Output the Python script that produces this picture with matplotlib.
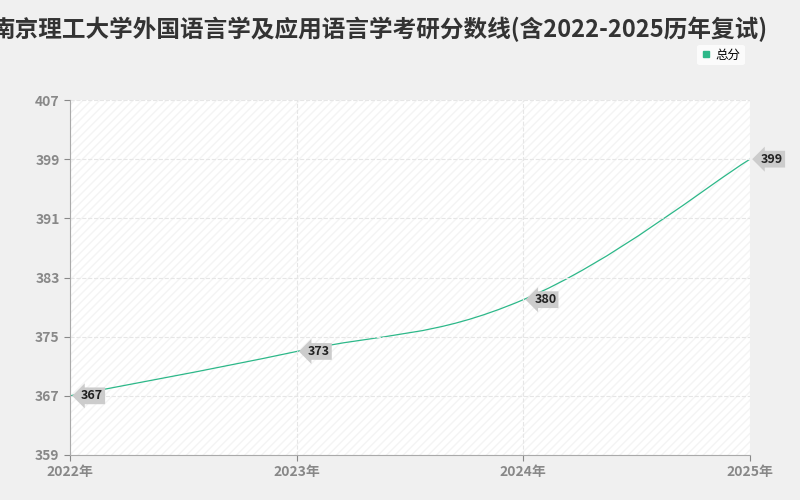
import matplotlib.pyplot as plt
from matplotlib.path import Path
from matplotlib.patches import PathPatch
from matplotlib.lines import Line2D
import numpy as np

plt.rcParams['font.family'] = ['Noto Sans CJK SC', 'DejaVu Sans']

years = [2022, 2023, 2024, 2025]
year_labels = ['2022年', '2023年', '2024年', '2025年']
scores = [367, 373, 380, 399]
y_ticks = [359, 367, 375, 383, 391, 399, 407]
line_color = '#2db889'

fig = plt.figure(figsize=(8, 5), dpi=100)
fig.patch.set_facecolor('#f0f0f0')
ax = fig.add_axes([70/800, 45/500, 680/800, 355/500])
ax.set_facecolor('white')
ax.add_patch(plt.Rectangle((0, 0), 1, 1, transform=ax.transAxes, facecolor='none',
                           hatch='////', edgecolor='#f4f4f4', lw=0))

# smooth curve with bezier segments (catmull-rom style control points)
x = np.array(years, dtype=float)
y = np.array(scores, dtype=float)
verts = [(x[0], y[0])]
codes = [Path.MOVETO]
t = 0.2
for i in range(len(x) - 1):
    p0 = (x[i-1], y[i-1]) if i > 0 else (x[i], y[i])
    p3 = (x[i+2], y[i+2]) if i + 2 < len(x) else (x[i+1], y[i+1])
    c1 = (x[i] + (x[i+1] - p0[0]) * t, y[i] + (y[i+1] - p0[1]) * t)
    c2 = (x[i+1] - (p3[0] - x[i]) * t, y[i+1] - (p3[1] - y[i]) * t)
    verts += [c1, c2, (x[i+1], y[i+1])]
    codes += [Path.CURVE4] * 3
ax.add_patch(PathPatch(Path(verts, codes), facecolor='none', edgecolor=line_color, lw=0.9))

for xv, yv in zip(years, scores):
    ax.annotate(str(yv), (xv, yv), xytext=(8, 0), textcoords='offset points',
                va='center', ha='left', fontsize=9, fontweight='bold', color='#222222',
                bbox=dict(boxstyle='larrow,pad=0.15', fc='#cccccc', ec='none'))

ax.set_xlim(2022, 2025)
ax.set_ylim(359, 407)
ax.set_xticks(years)
ax.set_xticklabels(year_labels)
ax.set_yticks(y_ticks)
ax.tick_params(colors='#888888', labelsize=10, length=4)
for lbl in ax.get_xticklabels() + ax.get_yticklabels():
    lbl.set_fontweight('bold')
ax.grid(True, ls='--', color='#e6e6e6', lw=0.8)
for s in ['top', 'right']:
    ax.spines[s].set_visible(False)
for s in ['left', 'bottom']:
    ax.spines[s].set_color('#aaaaaa')

fig.text(0.475, 0.925, '南京理工大学外国语言学及应用语言学考研分数线(含2022-2025历年复试)',
         ha='center', fontsize=17, fontweight='bold', color='#333333')
handle = Line2D([], [], ls='none', marker='s', markersize=4, color=line_color)
fig.legend([handle], ['总分'], loc='center', bbox_to_anchor=(0.901, 0.89),
           fontsize=9, frameon=True, facecolor='white', edgecolor='none',
           handlelength=0.8, handletextpad=0.4, borderpad=0.3, fancybox=True)

fig.savefig('out.png')
